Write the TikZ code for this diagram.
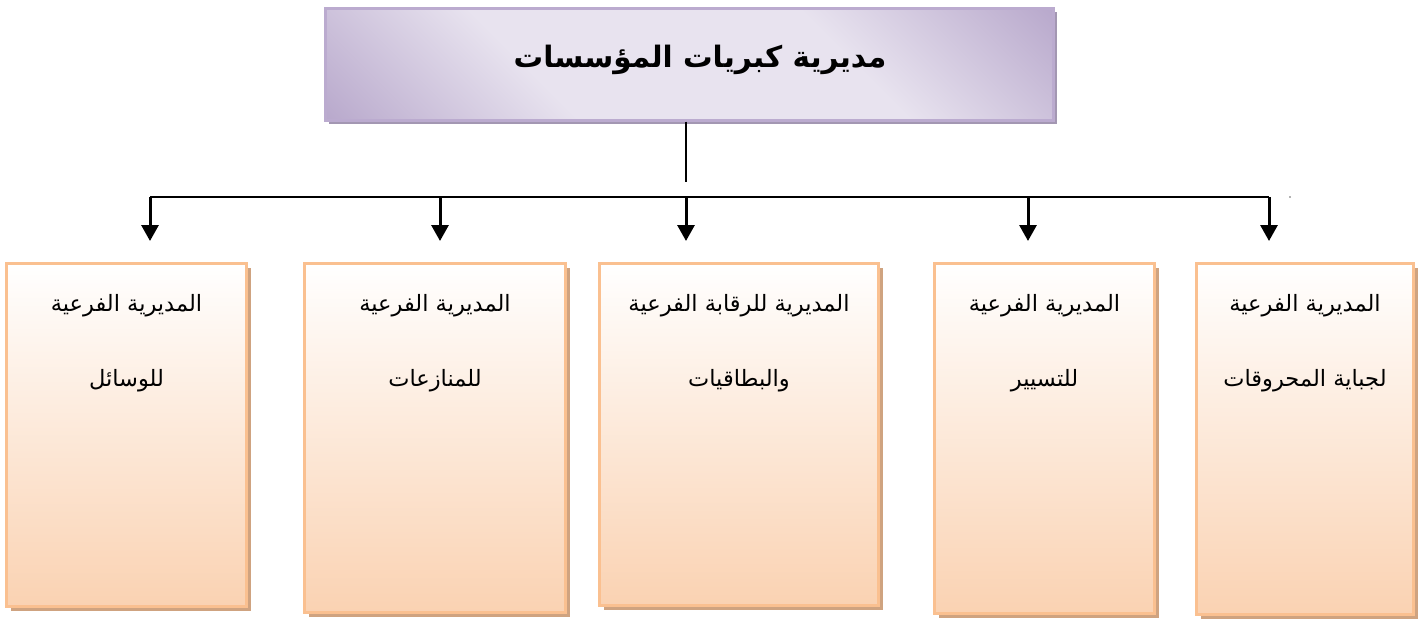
\documentclass[tikz,border=0pt]{standalone}
\usepackage{fontspec}
\newfontfamily\arabicfont[Script=Arabic]{DejaVu Sans}
\TeXXeTstate=1
\usetikzlibrary{arrows.meta,shadows,calc}

\definecolor{lavdark}{HTML}{B7A7CB}
\definecolor{lavlight}{HTML}{E8E3EF}
\definecolor{lavedge}{HTML}{BBABCF}
\definecolor{lavshadow}{HTML}{A397B2}
\definecolor{peach}{HTML}{FAD2B2}
\definecolor{peachedge}{HTML}{FAC090}
\definecolor{peachshadow}{HTML}{CFA380}

% diagonal sheen for the head box: dark at two opposite corners, light across the middle
\pgfdeclarehorizontalshading{lavsheen}{100bp}{%
  color(0bp)=(lavdark); color(14bp)=(lavdark); color(36bp)=(lavlight);
  color(64bp)=(lavlight); color(86bp)=(lavdark); color(100bp)=(lavdark)}

\tikzset{
  headbox/.style={draw=lavedge, line width=3pt, shading=lavsheen, shading angle=45,
    minimum width=728pt, minimum height=112pt, inner sep=0pt,
    drop shadow={shadow xshift=4pt, shadow yshift=-4pt, fill=lavshadow, opacity=1}},
  subbox/.style={draw=peachedge, line width=3pt, top color=white, bottom color=peach,
    inner sep=0pt, anchor=north west,
    drop shadow={shadow xshift=4pt, shadow yshift=-4pt, fill=peachshadow, opacity=1}},
  headtext/.style={font=\arabicfont\bfseries\fontsize{29.5}{36}\selectfont, inner sep=0pt},
  subtext/.style={font=\arabicfont\fontsize{22.5}{27}\selectfont, inner sep=0pt},
  link/.style={line width=2.4pt, black},
  arr/.style={line width=3pt, black, -{Triangle[width=17pt,length=16pt]}, shorten >=21pt},
}

\begin{document}
\begin{tikzpicture}[x=1pt, y=-1pt]
  \useasboundingbox (0,0) rectangle (1425,619);

  % head of the directorate
  \node[headbox] (top) at (689,64) {};
  \node[headtext] (toplabel) at (700,60) {\beginR مديرية كبريات المؤسسات\endR};

  % sub-directorates
  \node[subbox, minimum width=240pt, minimum height=343pt] (d1) at (5,262) {};
  \node[subbox, minimum width=261pt, minimum height=349pt] (d2) at (303,262) {};
  \node[subbox, minimum width=279pt, minimum height=342pt] (d3) at (598,262) {};
  \node[subbox, minimum width=220pt, minimum height=350pt] (d4) at (933,262) {};
  \node[subbox, minimum width=217pt, minimum height=351pt] (d5) at (1195,262) {};

  \node[subtext] (d1a) at ($(d1.north)+(0,44)$) {\beginR المديرية الفرعية\endR};
  \node[subtext] (d1b) at ($(d1.north)+(0,119)$) {\beginR للوسائل\endR};
  \node[subtext] (d2a) at ($(d2.north)+(0,44)$) {\beginR المديرية الفرعية\endR};
  \node[subtext] (d2b) at ($(d2.north)+(0,119)$) {\beginR للمنازعات\endR};
  \node[subtext] (d3a) at ($(d3.north)+(0,44)$) {\beginR المديرية للرقابة الفرعية\endR};
  \node[subtext] (d3b) at ($(d3.north)+(0,119)$) {\beginR والبطاقيات\endR};
  \node[subtext] (d4a) at ($(d4.north)+(0,44)$) {\beginR المديرية الفرعية\endR};
  \node[subtext] (d4b) at ($(d4.north)+(0,119)$) {\beginR للتسيير\endR};
  \node[subtext] (d5a) at ($(d5.north)+(0,44)$) {\beginR المديرية الفرعية\endR};
  \node[subtext] (d5b) at ($(d5.north)+(0,119)$) {\beginR لجباية المحروقات\endR};

  % stem below the head box
  \coordinate (stem) at (686,182);
  \draw[link] (stem |- top.south) -- (stem);

  % distribution bus and its drops
  \coordinate (b1) at (150,197);
  \coordinate (b2) at (440,197);
  \coordinate (b3) at (686,197);
  \coordinate (b4) at (1028,197);
  \coordinate (b5) at (1269,197);
  \draw[link] (b1) -- (b5);
  \draw[arr] (b1) -- (b1 |- d1.north);
  \draw[arr] (b2) -- (b2 |- d2.north);
  \draw[arr] (b3) -- (b3 |- d3.north);
  \draw[arr] (b4) -- (b4 |- d4.north);
  \draw[arr] (b5) -- (b5 |- d5.north);

  % small speck right of the bus
  \node[circle, fill=black!60, inner sep=0pt, minimum size=1.8pt] (speck) at (1290,197) {};
\end{tikzpicture}
\end{document}
